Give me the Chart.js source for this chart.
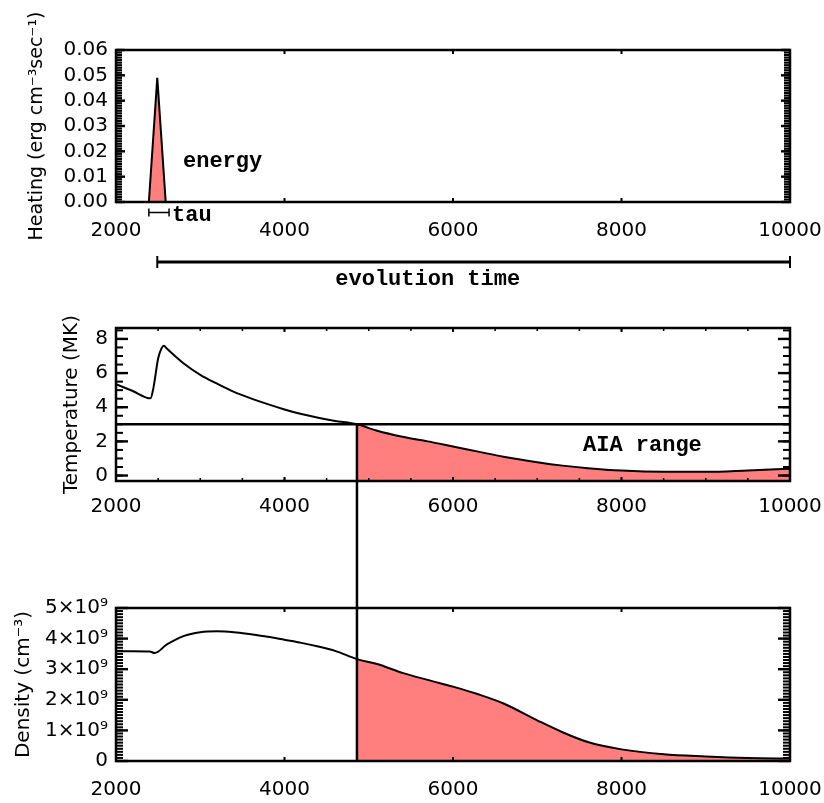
<!DOCTYPE html>
<html><head><meta charset="utf-8">
<script src="https://cdn.jsdelivr.net/npm/chart.js@4/dist/chart.umd.min.js"></script>
<style>
html,body{margin:0;padding:0;background:#fff;}
#wrap{position:relative;width:824px;height:803px;overflow:hidden;background:#fff;}
canvas{position:absolute;left:0;}
</style></head><body>
<div id="wrap">
<canvas id="cHeat" width="824" height="300" style="top:0px"></canvas>
<canvas id="cTemp" width="824" height="220" style="top:300px"></canvas>
<canvas id="cDens" width="824" height="283" style="top:520px"></canvas>
</div>
<script>
// ---------------- data ----------------
const xTicks = [2000, 4000, 6000, 8000, 10000];

const heatTime   = [2000, 2390, 2490, 2590, 10000];
const heatValues = [0, 0, 0.049, 0, 0];
const heatTicks  = [0, 0.01, 0.02, 0.03, 0.04, 0.05, 0.06];

const tempTime   = [2000, 2200, 2410, 2445, 2500, 2540, 2570, 2600, 2700, 2800, 3000, 3200, 3400, 3600, 3800, 4000, 4200, 4400, 4600, 4860, 5100, 5400, 5700, 6000, 6300, 6600, 7000, 7300, 7600, 8000, 8500, 9000, 9500, 10000];
const tempValues = [5.35, 4.95, 4.52, 5.15, 6.85, 7.45, 7.6, 7.45, 7.0, 6.58, 5.9, 5.38, 4.9, 4.52, 4.18, 3.87, 3.6, 3.38, 3.2, 3.0, 2.62, 2.27, 2.0, 1.7, 1.4, 1.1, 0.78, 0.58, 0.43, 0.29, 0.22, 0.22, 0.3, 0.4];
const tempTicks  = [0, 2, 4, 6, 8];

const densTime   = [2000, 2200, 2400, 2460, 2600, 2800, 3000, 3200, 3400, 3600, 3800, 4000, 4200, 4400, 4600, 4860, 5100, 5400, 5700, 6000, 6300, 6600, 7000, 7300, 7600, 8000, 8500, 9000, 9500, 10000];
const densValues = [3.59e9, 3.59e9, 3.58e9, 3.53e9, 3.80e9, 4.08e9, 4.21e9, 4.24e9, 4.21e9, 4.14e9, 4.06e9, 3.96e9, 3.86e9, 3.74e9, 3.60e9, 3.33e9, 3.17e9, 2.88e9, 2.65e9, 2.43e9, 2.18e9, 1.88e9, 1.33e9, 0.94e9, 0.62e9, 0.38e9, 0.22e9, 0.15e9, 0.10e9, 0.08e9];
const densTicks  = [0, 1e9, 2e9, 3e9, 4e9, 5e9];
const densTickLabels = ['0', '1×10⁹', '2×10⁹', '3×10⁹', '4×10⁹', '5×10⁹'];

const aiaLevel  = 3;          // MK
const crossTime = 4860;       // time where T drops below AIA level
const tauRange  = [2390, 2630];
const evolutionRange = [2490, 10000];

// ---------------- helpers ----------------
const RED = '#FF7F7F';
const TICKFONT = {family: '"DejaVu Sans"', size: 20};
const NOTEFONT = 'bold 22px "Liberation Mono"';
const pts = (xs, ys) => xs.map((t, i) => ({x: t, y: ys[i]}));
const ptsFrom = (xs, ys, t0) => pts(xs, ys).filter(p => p.x >= t0);
function stepList(a, b, s) { const r = []; const n = Math.round((b - a) / s); for (let i = 0; i <= n; i++) r.push(a + i * s); return r; }

// minor tick spacing per panel (axis decoration)
const heatMinorStep = 0.001, tempMinorStep = 0.5, densMinorStep = 1e8, timeMinorStep = 500;

function drawFrame(chart, o) {
  const ctx = chart.ctx, a = chart.chartArea, x = chart.scales.x, y = chart.scales.y;
  ctx.save();
  ctx.fillStyle = '#000';
  const dy = (vals, len, lw) => {
    vals.forEach(v => {
      const p = y.getPixelForValue(v) - lw / 2;
      ctx.fillRect(a.left, p, len, lw);
      ctx.fillRect(a.right - len, p, len, lw);
    });
  };
  const dx = (vals, len, lw) => {
    vals.forEach(v => {
      const p = x.getPixelForValue(v) - lw / 2;
      ctx.fillRect(p, a.bottom - len, lw, len);
      ctx.fillRect(p, a.top, lw, len);
    });
  };
  dy(stepList(o.yMin, o.yMax, o.yMinorStep), o.yMinorLen, o.yMinorW);
  dy(o.yMajor, o.yMajorLen, 2.4);
  if (o.xMinor) dx(stepList(2000, 10000, timeMinorStep), 3, 1.5);
  dx(xTicks, 4, 2);
  ctx.strokeStyle = '#000';
  ctx.lineWidth = 2.5;
  ctx.strokeRect(a.left, a.top, a.right - a.left, a.bottom - a.top);
  ctx.restore();
}

function baseOptions(cfg) {
  return {
    responsive: false, animation: false, devicePixelRatio: 1,
    layout: {padding: {left: 0, right: 34, top: cfg.padTop, bottom: 0}},
    elements: {line: {cubicInterpolationMode: 'monotone'}},
    plugins: {legend: {display: false}, tooltip: {enabled: false}},
    scales: {
      x: {
        type: 'linear', min: 2000, max: 10000,
        grid: {display: false, drawTicks: false}, border: {display: false},
        afterBuildTicks: s => { s.ticks = xTicks.map(v => ({value: v})); },
        afterFit: s => { s.height = cfg.xHeight; s.paddingLeft = 0; s.paddingRight = 0; },
        ticks: {font: TICKFONT, color: '#000', padding: cfg.xPad, maxRotation: 0, autoSkip: false, callback: v => String(v)}
      },
      y: {
        type: 'linear', min: cfg.yMin, max: cfg.yMax,
        grid: {display: false, drawTicks: false}, border: {display: false},
        afterBuildTicks: s => { s.ticks = cfg.yTicks.map(v => ({value: v})); },
        afterFit: s => { s.width = 116; s.paddingTop = 0; s.paddingBottom = 0; },
        ticks: {font: TICKFONT, color: '#000', padding: 8, autoSkip: false, callback: cfg.yLabel},
        title: {display: true, text: cfg.title, color: '#000',
                font: {family: '"DejaVu Sans"', size: cfg.titleSize}, padding: {top: cfg.titlePad, bottom: 0}}
      }
    }
  };
}

// ---------------- heating panel ----------------
const heatNotes = {
  id: 'heatNotes',
  afterDraw(chart) {
    drawFrame(chart, {yMin: 0, yMax: 0.06, yMinorStep: heatMinorStep, yMinorLen: 6, yMinorW: 2.1, yMajor: heatTicks, yMajorLen: 9});
    const {ctx, chartArea: a, scales: {x, y}} = chart;
    ctx.save();
    ctx.fillStyle = '#000'; ctx.strokeStyle = '#000';
    ctx.font = NOTEFONT; ctx.textBaseline = 'middle'; ctx.textAlign = 'left';
    ctx.fillText('energy', x.getPixelForValue(2795), y.getPixelForValue(0.0162));
    const ty = a.bottom + 10.5;
    const x1 = x.getPixelForValue(tauRange[0]), x2 = x.getPixelForValue(tauRange[1]);
    ctx.lineWidth = 1.5; ctx.beginPath();
    ctx.moveTo(x1, ty); ctx.lineTo(x2, ty);
    ctx.moveTo(x1, ty - 4); ctx.lineTo(x1, ty + 4);
    ctx.moveTo(x2, ty - 4); ctx.lineTo(x2, ty + 4);
    ctx.stroke();
    ctx.fillText('tau', x2 + 3, a.bottom + 13);
    const ey = 262;
    const e1 = x.getPixelForValue(evolutionRange[0]), e2 = x.getPixelForValue(evolutionRange[1]);
    ctx.lineWidth = 3; ctx.beginPath(); ctx.moveTo(e1, ey); ctx.lineTo(e2, ey); ctx.stroke();
    ctx.lineWidth = 2; ctx.beginPath();
    ctx.moveTo(e1, ey - 6); ctx.lineTo(e1, ey + 6);
    ctx.moveTo(e2, ey - 6); ctx.lineTo(e2, ey + 6); ctx.stroke();
    ctx.textAlign = 'center';
    ctx.fillText('evolution time', x.getPixelForValue(5700), 279);
    ctx.restore();
  }
};

new Chart(document.getElementById('cHeat'), {
  type: 'line',
  data: {datasets: [{
    data: pts(heatTime, heatValues), borderColor: '#000', borderWidth: 2,
    backgroundColor: RED, fill: 'origin', pointRadius: 0, tension: 0, cubicInterpolationMode: 'default'
  }]},
  options: baseOptions({
    padTop: 50, xHeight: 98, xPad: 17, yMin: 0, yMax: 0.06, yTicks: heatTicks,
    yLabel: v => v.toFixed(2), title: 'Heating (erg cm⁻³sec⁻¹)', titleSize: 19, titlePad: 26
  }),
  plugins: [heatNotes]
});

// ---------------- temperature panel ----------------
const tempNotes = {
  id: 'tempNotes',
  afterDraw(chart) {
    drawFrame(chart, {yMin: 0, yMax: 8.5, yMinorStep: tempMinorStep, yMinorLen: 7, yMinorW: 2, yMajor: tempTicks, yMajorLen: 12, xMinor: true});
    const {ctx, chartArea: a, scales: {x, y}} = chart;
    ctx.save();
    ctx.strokeStyle = '#000'; ctx.fillStyle = '#000';
    const vx = x.getPixelForValue(crossTime);
    ctx.lineWidth = 2.5; ctx.beginPath();
    ctx.moveTo(vx, y.getPixelForValue(aiaLevel)); ctx.lineTo(vx, chart.height); ctx.stroke();
    ctx.font = NOTEFONT; ctx.textBaseline = 'middle'; ctx.textAlign = 'left';
    ctx.fillText('AIA range', x.getPixelForValue(7543), y.getPixelForValue(1.75));
    ctx.restore();
  }
};

new Chart(document.getElementById('cTemp'), {
  type: 'line',
  data: {datasets: [
    {data: ptsFrom(tempTime, tempValues, crossTime), borderWidth: 0, borderColor: 'rgba(0,0,0,0)',
     backgroundColor: RED, fill: 'start', pointRadius: 0, order: 3},
    {data: pts(tempTime, tempValues), borderColor: '#000', borderWidth: 2, fill: false, pointRadius: 0, order: 2},
    {data: [{x: 2000, y: aiaLevel}, {x: 10000, y: aiaLevel}], borderColor: '#000', borderWidth: 2.5, fill: false, pointRadius: 0, order: 1}
  ]},
  options: baseOptions({
    padTop: 28, xHeight: 39, xPad: 14, yMin: -0.32, yMax: 8.64, yTicks: tempTicks,
    yLabel: v => String(v), title: 'Temperature (MK)', titleSize: 20, titlePad: 60
  }),
  plugins: [tempNotes]
});

// ---------------- density panel ----------------
const densNotes = {
  id: 'densNotes',
  afterDraw(chart) {
    drawFrame(chart, {yMin: 0, yMax: 5e9, yMinorStep: densMinorStep, yMinorLen: 7, yMinorW: 2, yMajor: densTicks, yMajorLen: 12});
    const {ctx, chartArea: a, scales: {x}} = chart;
    ctx.save();
    ctx.strokeStyle = '#000'; ctx.lineWidth = 2.5;
    const vx = x.getPixelForValue(crossTime);
    ctx.beginPath(); ctx.moveTo(vx, 0); ctx.lineTo(vx, a.bottom); ctx.stroke();
    ctx.restore();
  }
};

new Chart(document.getElementById('cDens'), {
  type: 'line',
  data: {datasets: [
    {data: ptsFrom(densTime, densValues, crossTime), borderWidth: 0, borderColor: 'rgba(0,0,0,0)',
     backgroundColor: RED, fill: 'origin', pointRadius: 0, order: 3},
    {data: pts(densTime, densValues), borderColor: '#000', borderWidth: 2, fill: false, pointRadius: 0, order: 2}
  ]},
  options: baseOptions({
    padTop: 88, xHeight: 42, xPad: 17, yMin: 0, yMax: 5e9, yTicks: densTicks,
    yLabel: v => densTickLabels[densTicks.indexOf(v)], title: 'Density (cm⁻³)', titleSize: 20, titlePad: 12
  }),
  plugins: [densNotes]
});
</script>
</body></html>
